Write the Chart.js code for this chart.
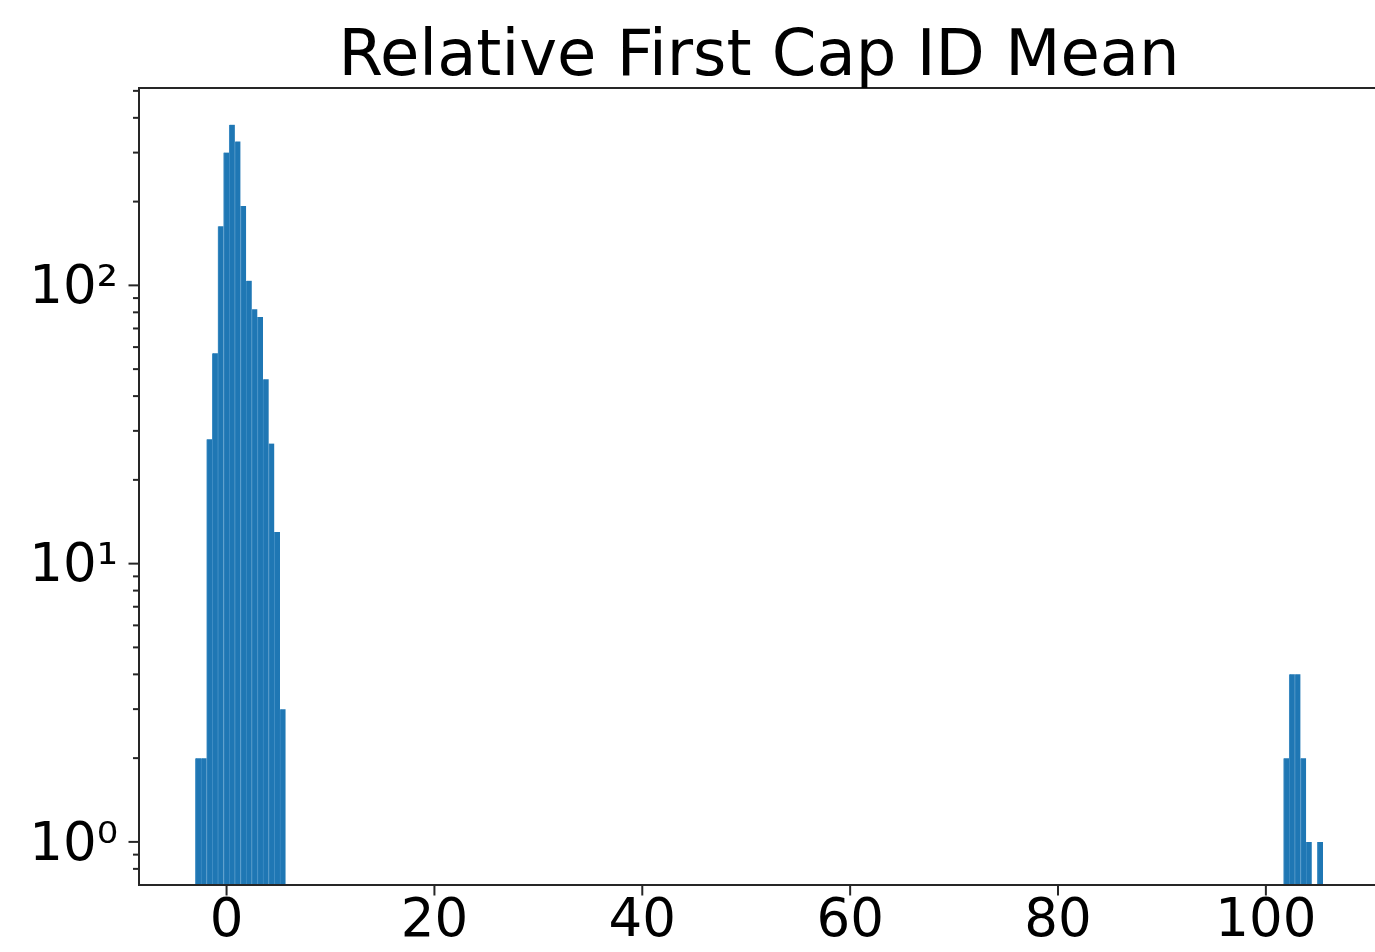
<!DOCTYPE html>
<html>
<head>
<meta charset="utf-8">
<script src="https://cdn.jsdelivr.net/npm/chart.js@4.4.1/dist/chart.umd.min.js"></script>
<style>
  html, body { margin: 0; padding: 0; background: #ffffff; overflow: hidden; }
  #wrap { width: 1375px; height: 952px; position: relative; }
</style>
</head>
<body>
<div id="wrap"><canvas id="c" width="1375" height="952"></canvas></div>
<script>
// ---- data ----
const chartTitle = "Relative First Cap ID Mean";
const binCenters = [
  -2.729, -2.186, -1.644, -1.101, -0.559, -0.016, 0.526, 1.069,
  1.611, 2.154, 2.696, 3.239, 3.781, 4.324, 4.866, 5.409,
  101.974, 102.516, 103.059, 103.601, 104.144, 104.686, 105.229
];
const binCounts = [
  2, 2, 28, 57, 163, 300, 378, 329,
  193, 104, 82, 77, 46, 27, 13, 3,
  2, 4, 4, 2, 1, null, 1
];
const xTickValues = [0, 20, 40, 60, 80, 100];
const yMajorTicks = [1, 10, 100];
const yMinorTicks = [0.8, 0.9, 2, 3, 4, 5, 6, 7, 8, 9, 20, 30, 40, 50, 60, 70, 80, 90, 200, 300, 400, 500];
const yTickLabels = { 1: "10\u2070", 10: "10\u00B9", 100: "10\u00B2" };

const FONT = "'DejaVu Sans', sans-serif";
const AXIS_COLOR = "#262626";

const framePlugin = {
  id: "framePlugin",
  afterDraw(chart) {
    const ctx = chart.ctx;
    const a = chart.chartArea;
    const xs = chart.scales.x, ys = chart.scales.y;
    ctx.save();
    ctx.strokeStyle = AXIS_COLOR;
    ctx.lineWidth = 2;
    ctx.beginPath();
    ctx.moveTo(a.left, a.bottom + 1);
    ctx.lineTo(a.left, a.top);
    ctx.lineTo(a.right + 5, a.top);
    ctx.moveTo(a.left - 1, a.bottom);
    ctx.lineTo(a.right + 5, a.bottom);
    ctx.stroke();
    ys.ticks.forEach(t => {
      const y = ys.getPixelForValue(t.value);
      const len = yMajorTicks.includes(t.value) ? 10.5 : 6;
      ctx.beginPath();
      ctx.moveTo(a.left, y);
      ctx.lineTo(a.left - len, y);
      ctx.stroke();
    });
    xs.ticks.forEach(t => {
      const x = xs.getPixelForValue(t.value);
      ctx.beginPath();
      ctx.moveTo(x, a.bottom);
      ctx.lineTo(x, a.bottom + 10.5);
      ctx.stroke();
    });
    ctx.fillStyle = "#000000";
    ctx.font = "64px " + FONT;
    ctx.textAlign = "center";
    ctx.textBaseline = "alphabetic";
    ctx.fillText(chartTitle, (a.left + 1379) / 2, 75);
    ctx.restore();
  }
};

new Chart(document.getElementById("c"), {
  type: "bar",
  data: {
    datasets: [{
      data: binCenters.map((x, i) => ({ x: x, y: binCounts[i] })),
      backgroundColor: "#1f77b4",
      borderColor: "#3f8dc4",
      borderWidth: { left: 1, right: 0, top: 0, bottom: 0 },
      borderSkipped: false,
      barPercentage: 1.0,
      categoryPercentage: 1.0
    }]
  },
  options: {
    responsive: false,
    animation: false,
    devicePixelRatio: 1,
    layout: { padding: { top: 88, left: 0, right: 0, bottom: 0 } },
    plugins: { legend: { display: false }, tooltip: { enabled: false }, title: { display: false } },
    scales: {
      x: {
        type: "linear",
        offset: false,
        min: -8.425,
        max: 110.5,
        afterBuildTicks(scale) { scale.ticks = xTickValues.map(v => ({ value: v })); },
        afterFit(scale) { scale.height = 67; },
        grid: { display: false, drawTicks: true, tickLength: 10 },
        border: { display: false },
        ticks: {
          autoSkip: false,
          maxRotation: 0,
          padding: -5,
          color: "#000000",
          font: { family: FONT, size: 53 },
          callback: (v) => String(v)
        }
      },
      y: {
        type: "logarithmic",
        offset: false,
        min: 0.738,
        max: 512,
        afterBuildTicks(scale) {
          scale.ticks = yMinorTicks.concat(yMajorTicks).sort((a, b) => a - b).map(v => ({ value: v, major: yMajorTicks.includes(v) }));
        },
        afterFit(scale) { scale.width = 139; },
        grid: { display: false, drawTicks: true, tickLength: 10 },
        border: { display: false },
        ticks: {
          autoSkip: false,
          padding: 11,
          labelOffset: 4,
          color: "#000000",
          font: { family: FONT, size: 53 },
          callback: (v) => yTickLabels[v] || ""
        }
      }
    }
  },
  plugins: [framePlugin]
});
</script>
</body>
</html>
